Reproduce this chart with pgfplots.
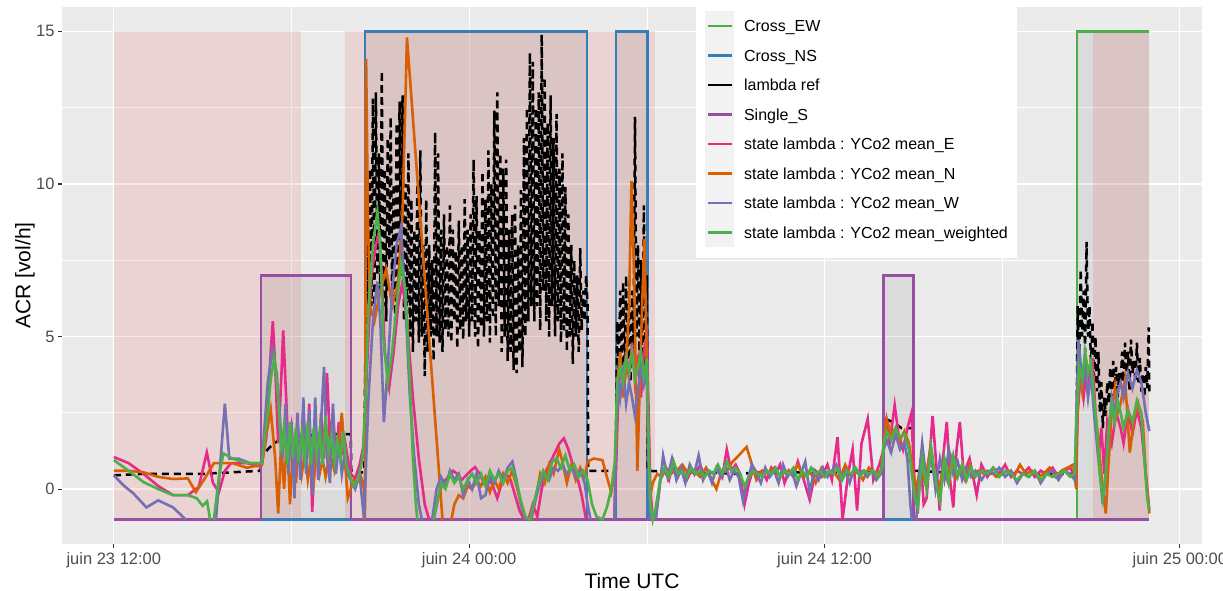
\documentclass[border=0pt]{standalone}
\usepackage{fontspec}
\setmainfont{Liberation Sans}
\usepackage{pgfplots}
\pgfplotsset{compat=1.18}

\definecolor{panel}{RGB}{235,235,235}
\definecolor{tickgrey}{RGB}{77,77,77}
\definecolor{tickmark}{RGB}{51,51,51}
\definecolor{keybg}{RGB}{242,242,242}
\definecolor{setred}{RGB}{228,26,28}
\definecolor{cew}{RGB}{77,175,74}
\definecolor{cns}{RGB}{55,126,184}
\definecolor{css}{RGB}{152,78,163}
\definecolor{le}{RGB}{231,41,138}
\definecolor{ln}{RGB}{217,95,2}
\definecolor{lw}{RGB}{117,112,179}
\definecolor{lwt}{RGB}{77,175,74}

\begin{document}
\begin{tikzpicture}
\useasboundingbox (0,0) rectangle (1223pt,591pt);
\begin{axis}[
  at={(62pt,47pt)}, anchor=south west,
  scale only axis, width=1140pt, height=537pt,
  xmin=10.25, xmax=48.75, ymin=-1.8, ymax=15.8,
  axis background/.style={fill=panel},
  axis line style={draw=none},
  no markers, unbounded coords=jump,
  xtick={12,24,36,48},
  xticklabels={juin 23 12:00,juin 24 00:00,juin 24 12:00,juin 25 00:00},
  ytick={0,5,10,15},
  xtick pos=left, ytick pos=left,
  minor xtick={18,30,42}, minor ytick={2.5,7.5,12.5},
  grid=both,
  major grid style={white, line width=1.2pt},
  minor grid style={white, line width=0.6pt},
  tick align=outside, major tick length=4pt, minor tick length=0pt,
  tick style={tickmark, line width=1.1pt},
  /pgf/number format/assume math mode=true,
  tick label style={font=\fontsize{16.5}{18}\selectfont, text=tickgrey},
  xticklabel style={yshift=-1pt},
  xlabel={Time UTC}, ylabel={ACR [vol/h]},
  label style={font=\fontsize{21}{24}\selectfont},
  xlabel style={at={(axis description cs:0.5,-0.068)}, anchor=center},
  ylabel style={at={(axis description cs:-0.0325,0.5)}, anchor=center},
  legend style={at={(axis description cs:0.556,1.013)}, anchor=north west,
    draw=none, fill=white, inner xsep=9pt, inner ysep=11pt,
    font=\fontsize{16}{19}\selectfont, row sep=0pt,
    nodes={inner sep=0pt, text height=11.5pt, text depth=0pt},
    /tikz/every odd column/.append style={column sep=10pt}},
  legend cell align=left,
  legend image code/.code={\fill[keybg, draw=none, overlay] (0pt,-15pt) rectangle (29pt,15pt);
    \path[draw=none, fill=none] (0pt,-14.75pt) rectangle (29pt,14.75pt);
    \draw[#1] (3pt,0pt) -- (27pt,0pt);},
]
% shaded state periods
\addplot[draw=none, fill=setred, fill opacity=0.115, forget plot] coordinates {(12,-1)(12,15)(18.32,15)(18.32,-1)};
\addplot[draw=none, fill=setred, fill opacity=0.115, forget plot] coordinates {(19.81,-1)(19.81,15)(30.26,15)(30.26,-1)};
\addplot[draw=none, fill=setred, fill opacity=0.115, forget plot] coordinates {(45.06,-1)(45.06,15)(46.97,15)(46.97,-1)};
\addplot[draw=none, fill=black, fill opacity=0.065, forget plot] coordinates {(16.97,-1)(16.97,7)(20.01,7)(20.01,-1)};
\addplot[draw=none, fill=black, fill opacity=0.065, forget plot] coordinates {(20.49,-1)(20.49,15)(27.99,15)(27.99,-1)};
\addplot[draw=none, fill=black, fill opacity=0.065, forget plot] coordinates {(28.97,-1)(28.97,15)(30.02,15)(30.02,-1)};
\addplot[draw=none, fill=black, fill opacity=0.065, forget plot] coordinates {(38.0,-1)(38.0,7)(39.01,7)(39.01,-1)};
\addplot[draw=none, fill=black, fill opacity=0.065, forget plot] coordinates {(44.52,-1)(44.52,15)(46.97,15)(46.97,-1)};

% Cross_EW
\addplot[cew, line width=2.3pt, forget plot] coordinates {(12,-1)(44.52,-1)(44.52,15)(46.97,15)};
% Cross_NS
\addplot[cns, line width=2.3pt, forget plot] coordinates {(12,-1)(20.49,-1)(20.49,15)(27.99,15)(27.99,-1)(28.97,-1)(28.97,15)(30.02,15)(30.02,-1)(46.97,-1)};

% lambda ref
\addplot[black, line width=2.5pt, dash pattern=on 7pt off 5pt, forget plot] coordinates {
(12,0.45)(13,0.5)(14,0.5)(15,0.5)(16,0.55)(16.95,0.6)(17.02,1.1)(17.2,1.3)(17.4,1.5)(17.6,1.6)(17.9,1.7)(18.5,1.75)(19.5,1.8)(20.0,1.8)(20.02,0.55)(20.45,0.55)
(20.50,5.0)(20.55,8.8)(20.60,5.5)(20.65,10.5)(20.70,6.0)(20.75,12.8)(20.80,5.8)(20.85,13.0)(20.90,7.0)(20.95,11.0)
(21.00,6.5)(21.05,13.7)(21.10,6.0)(21.15,10.5)(21.20,5.5)(21.25,11.5)(21.30,7.5)(21.35,12.2)(21.40,6.0)(21.45,10.0)
(21.50,5.5)(21.55,12.0)(21.60,6.5)(21.65,12.7)(21.70,7.0)(21.75,12.9)(21.80,5.5)(21.85,10.0)(21.90,6.0)(21.95,11.0)
(22.00,5.0)(22.05,9.5)(22.10,4.5)(22.15,8.5)(22.20,5.5)(22.25,10.0)(22.30,4.8)(22.35,11.1)(22.40,5.0)(22.45,8.0)
(22.50,3.7)(22.55,9.5)(22.60,4.5)(22.65,8.0)(22.70,5.0)(22.75,7.5)(22.80,4.2)(22.85,11.7)(22.90,5.0)(22.95,11.0)
(23.00,4.8)(23.05,8.5)(23.10,4.5)(23.15,9.0)(23.20,5.2)(23.25,8.0)(23.30,5.0)(23.35,9.3)(23.40,4.8)(23.45,8.5)
(23.50,5.5)(23.55,7.8)(23.60,4.6)(23.65,8.8)(23.70,5.2)(23.75,8.0)(23.80,4.9)(23.85,9.5)(23.90,5.5)(23.95,8.5)
(24.00,5.0)(24.05,9.0)(24.10,5.5)(24.15,10.8)(24.20,5.0)(24.25,9.6)(24.30,4.6)(24.35,8.5)(24.40,5.3)(24.45,10.4)
(24.50,5.0)(24.55,9.5)(24.60,5.5)(24.65,11.1)(24.70,4.8)(24.75,10.0)(24.80,5.6)(24.85,12.4)(24.90,5.0)(24.95,13.0)
(25.00,6.0)(25.05,11.0)(25.10,4.5)(25.15,10.5)(25.20,5.0)(25.25,10.8)(25.30,4.2)(25.35,8.5)(25.40,4.5)(25.45,9.0)
(25.50,3.9)(25.55,9.3)(25.60,3.8)(25.65,8.0)(25.70,4.5)(25.75,9.8)(25.80,4.0)(25.85,11.5)(25.90,5.0)(25.95,12.5)
(26.00,5.5)(26.05,14.3)(26.10,6.0)(26.15,14.0)(26.20,5.5)(26.25,12.5)(26.30,6.0)(26.35,13.0)(26.40,5.2)(26.45,14.9)
(26.50,6.5)(26.55,13.5)(26.60,5.5)(26.65,12.0)(26.70,5.0)(26.75,12.9)(26.80,6.0)(26.85,11.5)(26.90,5.0)(26.95,12.3)
(27.00,5.5)(27.05,10.5)(27.10,4.8)(27.15,11.0)(27.20,5.2)(27.25,9.9)(27.30,4.5)(27.35,9.0)(27.40,5.0)(27.45,8.0)
(27.50,4.1)(27.55,7.5)(27.60,5.0)(27.65,7.0)(27.70,4.5)(27.75,7.9)(27.80,5.2)(27.85,6.5)(27.90,5.5)(27.95,7.0)(28.00,6.0)
(28.02,0.6)(28.95,0.6)
(29.00,5.5)(29.05,3.5)(29.10,6.5)(29.15,4.0)(29.20,6.8)(29.25,3.2)(29.30,7.0)(29.35,4.0)(29.40,6.0)(29.45,3.5)
(29.50,6.5)(29.55,4.5)(29.60,12.2)(29.65,5.0)(29.70,8.0)(29.75,4.5)(29.80,7.5)(29.85,3.5)(29.90,9.3)(29.95,4.0)(30.00,7.0)(30.03,0.6)
(31,0.55)(32,0.55)(33,0.5)(34,0.55)(35,0.55)(36,0.5)(37,0.55)(37.98,0.55)(38.0,2.4)(38.02,1.4)(38.05,2.3)(38.3,2.2)(38.6,2.0)(38.98,2.0)(39.0,0.6)
(40,0.55)(41,0.55)(42,0.5)(43,0.5)(44,0.5)(44.5,0.5)
(44.55,6.0)(44.60,4.0)(44.65,7.2)(44.70,5.0)(44.75,6.5)(44.80,4.5)(44.85,8.1)(44.90,5.0)(44.95,6.0)(45.00,4.0)
(45.05,5.5)(45.10,3.5)(45.15,5.0)(45.20,3.2)(45.25,4.5)(45.30,2.5)(45.35,3.5)(45.40,2.0)(45.45,3.0)(45.50,2.4)
(45.55,3.5)(45.60,2.8)(45.65,4.0)(45.70,3.0)(45.75,4.2)(45.80,3.3)(45.85,4.0)(45.90,3.0)(45.95,3.8)(46.00,3.3)
(46.05,4.5)(46.10,3.5)(46.15,4.8)(46.20,3.6)(46.25,4.5)(46.30,3.2)(46.35,4.9)(46.40,3.8)(46.45,4.2)(46.50,3.5)
(46.55,4.8)(46.60,3.5)(46.65,4.3)(46.70,3.2)(46.75,3.8)(46.80,3.0)(46.85,4.0)(46.90,3.3)(46.95,5.3)(46.97,3.2)
};

% Single_S
\addplot[css, line width=2.5pt, forget plot] coordinates {(12,-1)(16.97,-1)(16.97,7)(20.01,7)(20.01,-1)(38.0,-1)(38.0,7)(39.01,7)(39.01,-1)(46.97,-1)};

% state lambda : YCo2 mean_E
\addplot[le, line width=2.6pt, forget plot] coordinates {
(12,1.05)(12.5,0.85)(13.0,0.5)(13.5,0.1)(14.0,-0.2)(14.5,-0.2)(14.87,0.07)(15.14,1.2)(15.35,0.2)(15.55,-0.1)(15.75,0.6)(15.96,0.85)(16.5,0.85)(16.85,0.75)(17.0,0.8)
(17.15,1.7)(17.3,4.5)(17.37,5.5)(17.45,4.0)(17.55,1.5)(17.65,3.5)(17.72,5.2)(17.82,3.0)(17.9,1.2)(18.0,2.0)(18.1,0.8)(18.2,2.2)(18.3,1.0)(18.4,2.5)(18.5,0.5)(18.6,2.8)(18.7,-0.75)(18.8,1.5)(18.9,0.8)(19.0,2.5)(19.1,1.0)(19.2,3.8)(19.3,1.5)(19.4,2.5)(19.5,1.0)(19.6,2.2)(19.7,1.2)(19.8,1.6)(19.9,1.0)(20.0,0.5)(20.15,0.35)(20.3,0.8)(20.45,1.5)
(20.55,4.0)(20.7,7.0)(20.85,8.0)(20.95,8.4)(21.05,7.0)(21.15,4.5)(21.3,3.35)(21.45,4.5)(21.6,6.0)(21.75,6.8)(21.9,5.5)(22.1,3.0)(22.3,1.0)(22.5,-0.5)(22.65,-1.0)(22.7,nan)
(22.8,-1.0)(22.95,-0.3)(23.1,0.2)(23.3,0.4)(23.45,0.6)(23.6,0.5)(23.75,0.3)(23.9,0.45)(24.05,0.6)(24.2,0.72)(24.35,0.5)(24.5,0.2)(24.65,0.4)(24.8,0.1)(24.95,-0.3)(25.1,0.2)(25.25,0.5)(25.4,0.3)(25.55,-0.2)(25.7,-0.7)(25.85,-1.0)(25.9,nan)
(26.0,-1.0)(26.15,-0.5)(26.3,-0.9)(26.45,0.0)(26.6,0.6)(26.75,0.9)(26.9,1.2)(27.05,1.5)(27.2,1.66)(27.35,1.3)(27.5,0.8)(27.65,0.4)(27.8,-0.2)(27.95,-1.0)(28.0,nan)
(28.9,-1.0)(28.97,1.0)(29.05,3.5)(29.1,4.2)(29.2,3.2)(29.3,4.5)(29.4,3.6)(29.5,4.8)(29.6,3.5)(29.7,4.2)(29.8,3.0)(29.9,4.5)(30.0,5.0)(30.05,3.0)(30.12,0.0)(30.2,-1.0)(30.25,nan)
(30.3,-1.0)(30.45,0.3)(30.6,0.6)(30.75,0.3)(30.9,0.9)(31.05,0.4)(31.2,0.7)(31.35,0.3)(31.5,0.6)(31.65,0.5)(31.8,0.8)(31.95,0.4)(32.1,0.6)(32.25,0.5)(32.4,0.7)(32.55,0.4)(32.7,1.3)(32.85,0.6)(33.0,0.8)(33.15,0.5)(33.3,-0.5)(33.45,0.2)(33.6,0.7)(33.75,0.5)(33.9,0.6)(34.05,0.3)(34.2,0.7)(34.35,0.5)(34.5,0.8)(34.65,0.2)(34.8,0.6)(34.95,0.4)(35.1,0.9)(35.3,0.3)(35.5,-0.35)(35.7,0.6)(35.9,0.4)(36.1,0.8)(36.25,0.3)(36.44,1.7)(36.61,-1.0)(36.8,0.5)(36.95,1.3)(37.1,-0.7)(37.25,1.5)(37.46,2.3)(37.65,0.3)(37.85,0.8)(38.0,1.3)
(38.1,2.2)(38.2,1.5)(38.37,2.75)(38.5,1.8)(38.65,1.3)(38.8,2.0)(38.94,2.5)(39.05,0.0)(39.15,-0.8)(39.25,1.0)(39.35,-0.5)(39.45,-0.3)(39.65,2.4)(39.89,-0.7)(40.0,1.0)(40.13,2.2)(40.25,0.2)(40.35,-0.6)(40.46,1.3)(40.57,2.2)(40.7,0.5)(40.9,1.0)(41.14,-0.2)(41.3,0.8)(41.5,0.4)(41.7,0.7)(41.9,0.5)(42.1,0.8)(42.3,0.4)(42.5,0.6)(42.7,0.5)(42.9,0.7)(43.1,0.4)(43.3,0.6)(43.5,0.5)(43.7,0.7)(43.9,0.4)(44.1,0.6)(44.3,0.7)(44.5,0.3)
(44.55,2.5)(44.65,3.8)(44.75,3.0)(44.85,4.0)(44.95,3.5)(45.05,4.3)(45.15,2.5)(45.25,1.0)(45.35,2.0)(45.45,0.5)(45.55,2.2)(45.7,1.5)(45.85,2.5)(46.0,2.0)(46.1,1.5)(46.25,2.6)(46.4,1.8)(46.55,2.6)(46.7,2.0)(46.85,0.5)(46.97,-0.7)
};

% state lambda : YCo2 mean_N
\addplot[ln, line width=2.6pt, forget plot] coordinates {
(12,0.6)(12.5,0.6)(13.0,0.55)(13.5,0.4)(14.0,0.33)(14.5,0.35)(14.77,-0.1)(15.04,0.3)(15.38,0.85)(16.0,0.85)(16.5,0.7)(17.0,0.8)
(17.1,1.5)(17.3,2.6)(17.45,1.0)(17.55,-0.8)(17.65,1.5)(17.75,0.0)(17.85,1.8)(17.95,-0.5)(18.05,1.3)(18.15,0.2)(18.25,1.5)(18.35,0.5)(18.45,1.2)(18.55,0.3)(18.65,1.0)(18.75,0.2)(18.85,1.3)(18.95,0.5)(19.05,1.0)(19.15,0.4)(19.3,1.2)(19.45,0.6)(19.6,1.4)(19.7,2.5)(19.8,1.0)(19.9,-0.3)(20.0,0.0)(20.1,0.3)(20.2,0.2)(20.35,0.4)(20.45,0.0)(20.48,-1.0)
(20.52,14.1)(20.58,9.0)(20.65,6.0)(20.8,5.5)(21.0,6.5)(21.2,7.2)(21.4,6.0)(21.6,6.8)(21.75,9.0)(21.9,14.8)(23.1,-1.0)(23.2,nan)
(23.4,-1.0)(23.5,-0.5)(23.65,-0.2)(23.8,-0.3)(23.95,0.1)(24.1,0.0)(24.25,0.3)(24.4,0.1)(24.55,0.4)(24.7,-0.1)(24.85,0.3)(25.0,0.0)(25.15,0.5)(25.3,0.2)(25.45,0.6)(25.6,0.1)(25.75,-0.5)(25.9,-1.0)(26.0,nan)
(26.1,-1.0)(26.25,-0.3)(26.4,0.5)(26.55,0.2)(26.7,0.8)(26.85,0.5)(27.04,1.3)(27.15,0.9)(27.3,0.2)(27.45,0.8)(27.6,0.3)(27.75,0.7)(27.9,0.4)(28.0,0.9)(28.2,1.0)(28.5,0.95)(28.65,0.4)(28.8,-0.1)(28.92,0.6)(28.97,1.5)
(29.0,3.5)(29.1,4.5)(29.2,3.0)(29.3,4.0)(29.4,6.0)(29.48,10.1)(29.57,7.0)(29.64,3.0)(29.68,0.6)(29.75,3.0)(29.84,6.0)(29.92,8.2)(29.98,5.0)(30.05,1.0)(30.12,-0.2)
(30.2,0.2)(30.35,0.5)(30.5,0.4)(30.65,0.7)(30.8,0.5)(31.0,0.6)(31.2,0.8)(31.4,0.5)(31.6,0.6)(31.8,0.4)(32.0,0.7)(32.2,0.3)(32.35,0.0)(32.5,0.5)(32.7,0.6)(32.9,0.9)(33.1,1.1)(33.37,1.38)(33.55,0.8)(33.7,0.3)(33.9,0.6)(34.1,0.5)(34.3,0.7)(34.5,0.4)(34.7,0.6)(34.9,0.5)(35.1,0.8)(35.3,0.4)(35.5,0.6)(35.7,0.2)(35.9,0.7)(36.1,0.5)(36.3,0.6)(36.5,0.3)(36.7,0.8)(36.9,0.4)(37.1,0.6)(37.3,0.3)(37.5,0.7)(37.7,0.5)(37.9,0.6)
(38.0,1.5)(38.1,2.3)(38.25,1.8)(38.4,2.0)(38.55,1.6)(38.7,1.9)(38.85,1.5)(39.0,0.5)(39.1,0.0)
(39.25,0.8)(39.4,0.2)(39.55,1.2)(39.7,0.5)(39.85,-0.2)(40.0,0.8)(40.15,0.3)(40.3,1.0)(40.45,0.4)(40.6,0.7)(40.75,0.3)(40.9,0.8)(41.05,0.4)(41.2,0.6)(41.4,0.5)(41.6,0.6)(41.8,0.4)(42.0,0.5)(42.2,0.6)(42.4,0.4)(42.6,0.8)(42.8,0.5)(43.0,0.6)(43.2,0.4)(43.4,0.5)(43.6,0.7)(43.8,0.4)(44.0,0.6)(44.2,0.7)(44.4,0.8)(44.5,0.0)
(44.52,2.0)(44.6,3.8)(44.7,3.2)(44.8,4.4)(44.9,3.8)(45.0,4.0)(45.1,3.0)(45.2,2.0)(45.3,1.0)(45.4,0.0)(45.5,-0.8)(45.6,1.0)(45.7,2.5)(45.81,3.35)(45.9,2.5)(46.0,2.8)(46.15,3.6)(46.31,1.2)(46.45,2.3)(46.6,2.8)(46.75,2.2)(46.85,0.5)(46.97,-0.8)
};

% state lambda : YCo2 mean_W
\addplot[lw, line width=2.6pt, forget plot] coordinates {
(12,0.45)(12.35,0.1)(12.65,-0.13)(13.1,-0.6)(13.5,-0.37)(14.0,-0.6)(14.43,-1.0)(14.5,nan)
(15.45,-1.0)(15.6,0.9)(15.75,2.8)(15.9,1.0)(16.2,1.0)(16.6,0.85)(17.0,0.85)
(17.05,1.5)(17.2,3.5)(17.35,4.55)(17.5,3.8)(17.6,2.5)(17.7,1.0)(17.8,2.8)(17.9,0.5)(18.0,2.2)(18.1,-0.3)(18.2,2.5)(18.3,0.3)(18.4,3.0)(18.5,0.5)(18.6,2.6)(18.7,-0.2)(18.8,3.0)(18.9,0.3)(19.0,2.2)(19.1,4.0)(19.2,1.0)(19.3,0.2)(19.4,2.8)(19.5,0.5)(19.6,1.5)(19.7,0.5)(19.8,1.2)(19.9,0.5)(20.0,0.3)(20.15,0.0)(20.3,0.5)(20.45,-1.0)
(20.6,3.0)(20.75,5.5)(20.9,6.8)(21.0,5.5)(21.12,2.2)(21.25,4.0)(21.4,6.5)(21.55,8.0)(21.7,8.6)(21.85,6.0)(22.0,3.0)(22.15,1.0)(22.3,-0.5)(22.4,-1.0)(22.5,nan)
(22.75,-1.0)(22.9,0.0)(23.05,0.4)(23.2,0.1)(23.35,0.6)(23.5,0.3)(23.65,0.5)(23.8,-0.2)(23.95,0.3)(24.1,0.0)(24.25,0.5)(24.4,-0.3)(24.55,-0.2)(24.7,0.4)(24.85,0.2)(25.0,0.6)(25.15,0.3)(25.3,0.7)(25.46,0.9)(25.6,0.3)(25.75,-0.5)(25.9,-1.0)(26.0,nan)
(26.1,-0.9)(26.25,-0.3)(26.4,0.2)(26.55,0.5)(26.7,0.3)(26.85,0.7)(27.0,0.6)(27.15,0.8)(27.3,0.5)(27.45,0.7)(27.6,0.4)(27.75,0.6)(27.9,0.2)(28.0,-0.5)(28.1,-1.0)(28.2,nan)
(28.9,-1.0)(28.97,2.0)(29.05,3.5)(29.1,3.0)(29.2,3.8)(29.3,2.8)(29.4,3.5)(29.5,3.0)(29.6,2.4)(29.7,3.2)(29.8,4.0)(29.9,3.4)(30.0,3.8)(30.05,1.5)(30.12,-1.0)(30.2,nan)
(30.3,-1.0)(30.45,0.2)(30.55,1.1)(30.7,0.4)(30.85,1.0)(31.0,0.3)(31.15,0.7)(31.3,0.2)(31.45,0.8)(31.6,0.5)(31.75,1.1)(31.9,0.3)(32.05,0.6)(32.2,0.2)(32.35,0.7)(32.5,0.4)(32.65,0.8)(32.8,0.3)(32.95,0.6)(33.1,0.4)(33.25,-0.4)(33.4,0.3)(33.55,0.8)(33.7,0.5)(33.85,0.2)(34.0,0.7)(34.15,0.4)(34.3,0.6)(34.45,0.2)(34.6,0.8)(34.75,0.4)(34.9,0.6)(35.05,0.1)(35.2,0.5)(35.35,0.9)(35.5,-0.1)(35.65,0.6)(35.8,0.3)(35.95,0.7)(36.1,0.4)(36.25,0.6)(36.4,0.8)(36.55,0.3)(36.7,0.6)(36.85,0.2)(37.0,0.7)(37.15,0.5)(37.3,0.6)(37.45,0.4)(37.6,0.6)(37.75,0.3)(37.9,0.5)
(38.0,1.3)(38.1,1.6)(38.25,1.2)(38.4,1.8)(38.55,1.3)(38.7,1.5)(38.8,1.0)(38.9,-0.5)(38.95,-1.0)(39.0,nan)
(39.1,-1.0)(39.2,0.5)(39.3,1.5)(39.45,0.2)(39.6,1.2)(39.75,0.0)(39.9,1.0)(40.05,0.3)(40.2,1.3)(40.35,0.5)(40.5,0.9)(40.65,0.3)(40.8,0.7)(40.95,0.4)(41.1,0.6)(41.3,0.3)(41.5,0.6)(41.7,0.5)(41.9,0.7)(42.1,0.4)(42.3,0.6)(42.5,0.2)(42.7,0.5)(42.9,0.4)(43.1,0.6)(43.3,0.2)(43.5,0.5)(43.7,0.6)(43.9,0.3)(44.1,0.6)(44.3,0.5)(44.45,0.3)
(44.52,3.0)(44.58,4.9)(44.7,3.5)(44.8,4.0)(44.9,3.0)(45.0,3.8)(45.1,2.5)(45.2,1.5)(45.3,0.5)(45.4,-0.5)(45.5,0.5)(45.6,2.0)(45.7,3.0)(45.8,2.5)(45.9,3.2)(46.0,3.5)(46.1,3.0)(46.25,3.8)(46.4,3.3)(46.55,3.9)(46.7,3.5)(46.85,2.5)(46.97,1.9)
};

% state lambda : YCo2 mean_weighted
\addplot[lwt, line width=2.6pt, forget plot] coordinates {
(12,0.95)(12.5,0.6)(13.0,0.23)(13.5,0.0)(14.0,-0.2)(14.5,-0.2)(14.8,-0.3)(15.0,-0.55)(15.15,-0.4)(15.25,-1.0)(15.3,nan)
(15.38,-1.0)(15.55,0.4)(15.7,1.17)(16.0,1.0)(16.5,0.85)(17.0,0.85)
(17.05,1.3)(17.2,2.5)(17.3,3.6)(17.42,4.3)(17.55,3.0)(17.65,1.2)(17.75,2.0)(17.85,0.8)(17.95,2.2)(18.05,1.0)(18.15,2.0)(18.25,0.9)(18.35,1.8)(18.45,1.0)(18.55,2.2)(18.65,0.8)(18.75,2.0)(18.85,1.1)(18.95,1.9)(19.05,0.8)(19.15,2.4)(19.25,1.2)(19.35,1.8)(19.45,0.9)(19.55,1.6)(19.65,1.0)(19.75,1.9)(19.85,0.8)(19.95,0.5)(20.1,0.1)(20.25,0.3)(20.4,1.0)(20.5,3.0)
(20.6,6.0)(20.75,8.0)(20.9,9.1)(21.0,8.0)(21.1,5.0)(21.25,3.5)(21.4,4.5)(21.55,6.0)(21.7,7.4)(21.85,6.5)(22.0,3.5)(22.1,1.0)(22.2,-0.5)(22.25,-1.0)(22.3,nan)
(22.8,-1.0)(22.9,-0.5)(23.05,0.2)(23.2,0.0)(23.35,0.5)(23.5,0.2)(23.65,0.4)(23.8,0.0)(23.95,0.3)(24.1,0.5)(24.25,0.2)(24.4,0.5)(24.55,0.1)(24.7,0.6)(24.85,0.3)(25.0,0.5)(25.15,0.2)(25.3,0.6)(25.46,0.7)(25.6,0.2)(25.75,-0.4)(25.9,-0.9)(26.05,-1.0)(26.2,-0.4)(26.35,0.2)(26.5,0.6)(26.65,0.3)(26.8,0.9)(26.95,1.0)(27.1,0.7)(27.25,1.1)(27.4,0.6)(27.55,0.8)(27.7,0.4)(27.85,0.6)(28.0,0.3)(28.15,-0.5)(28.3,-0.9)(28.5,-1.0)(28.65,-0.6)(28.8,0.0)(28.92,0.9)
(29.0,3.5)(29.1,4.0)(29.2,3.5)(29.3,4.3)(29.4,3.8)(29.5,4.5)(29.6,3.6)(29.7,4.0)(29.8,4.5)(29.9,3.7)(30.0,4.3)(30.05,2.0)(30.12,-0.5)(30.2,-1.0)
(30.3,-0.6)(30.45,0.3)(30.6,0.7)(30.75,0.4)(30.9,0.9)(31.05,0.5)(31.2,0.6)(31.35,0.4)(31.5,0.7)(31.65,0.5)(31.8,0.6)(31.95,0.4)(32.1,0.6)(32.25,0.5)(32.4,0.8)(32.55,0.5)(32.7,0.9)(32.85,0.6)(33.0,0.7)(33.15,0.5)(33.3,0.1)(33.45,0.4)(33.6,0.6)(33.75,0.5)(33.9,0.4)(34.05,0.6)(34.2,0.5)(34.35,0.7)(34.5,0.4)(34.65,0.6)(34.8,0.5)(34.95,0.7)(35.1,0.3)(35.25,0.6)(35.4,0.4)(35.55,0.7)(35.7,0.5)(35.85,0.6)(36.0,0.4)(36.15,0.6)(36.3,0.5)(36.45,0.7)(36.6,0.3)(36.75,0.6)(36.9,0.5)(37.05,0.7)(37.2,0.4)(37.35,0.6)(37.5,0.5)(37.65,0.6)(37.8,0.4)(37.95,0.7)
(38.0,1.5)(38.1,1.9)(38.25,1.6)(38.4,2.0)(38.55,1.7)(38.7,1.8)(38.85,1.3)(38.95,0.5)(39.05,-0.3)
(39.15,-0.6)(39.3,1.0)(39.45,0.0)(39.6,1.4)(39.75,0.3)(39.9,-0.4)(40.05,1.0)(40.2,0.2)(40.35,1.1)(40.5,0.4)(40.65,0.8)(40.8,0.3)(40.95,0.7)(41.1,0.4)(41.3,0.6)(41.5,0.5)(41.7,0.7)(41.9,0.4)(42.1,0.6)(42.3,0.5)(42.5,0.3)(42.7,0.5)(42.9,0.4)(43.1,0.6)(43.3,0.3)(43.5,0.5)(43.7,0.4)(43.9,0.5)(44.1,0.6)(44.3,0.4)(44.45,0.5)
(44.52,2.5)(44.6,4.0)(44.7,3.6)(44.8,4.5)(44.9,3.8)(45.0,4.2)(45.1,3.0)(45.2,2.0)(45.3,0.5)(45.4,-0.3)(45.5,0.5)(45.6,2.0)(45.7,2.8)(45.8,2.2)(45.9,2.9)(46.0,2.5)(46.1,2.0)(46.25,2.6)(46.4,2.2)(46.55,2.9)(46.7,2.5)(46.8,1.0)(46.9,-0.3)(46.97,-0.7)
};

% legend
\addlegendimage{cew, line width=2.5pt}\addlegendentry{Cross\_EW}
\addlegendimage{cns, line width=2.5pt}\addlegendentry{Cross\_NS}
\addlegendimage{black, line width=2.5pt}\addlegendentry{lambda ref}
\addlegendimage{css, line width=2.5pt}\addlegendentry{Single\_S}
\addlegendimage{le, line width=2.5pt}\addlegendentry{state lambda : YCo2 mean\_E}
\addlegendimage{ln, line width=2.5pt}\addlegendentry{state lambda : YCo2 mean\_N}
\addlegendimage{lw, line width=2.5pt}\addlegendentry{state lambda : YCo2 mean\_W}
\addlegendimage{lwt, line width=2.5pt}\addlegendentry{state lambda : YCo2 mean\_weighted}
\end{axis}
\end{tikzpicture}
\end{document}
